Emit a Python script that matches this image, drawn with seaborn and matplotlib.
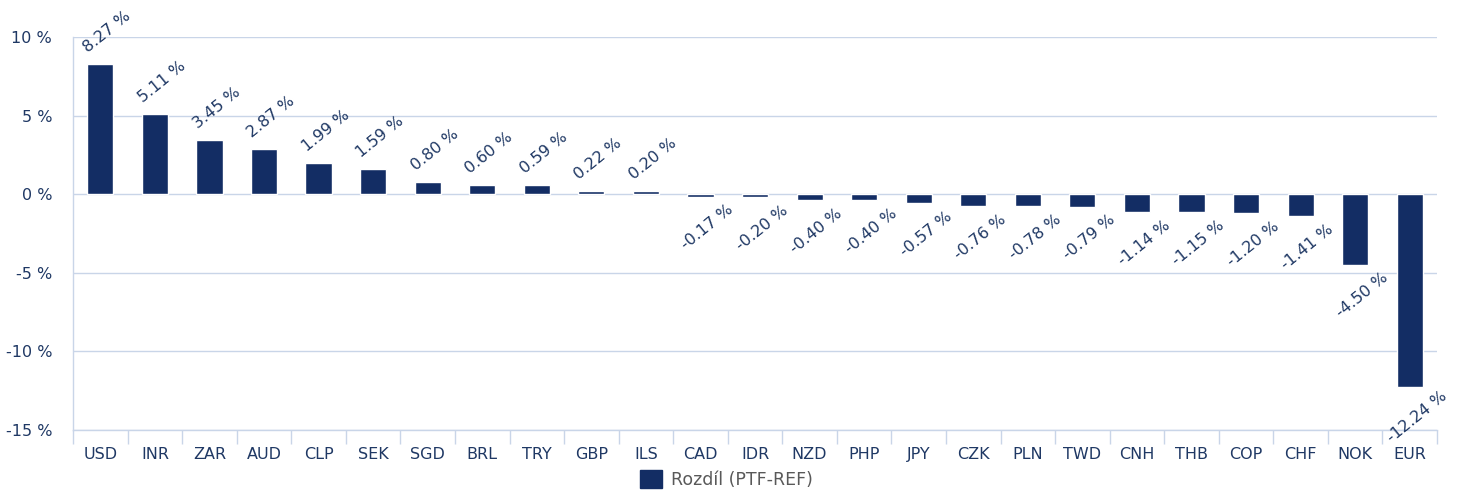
import numpy as np
import pandas as pd
import matplotlib
matplotlib.use("Agg")
import matplotlib.pyplot as plt
import seaborn as sns
from matplotlib.patches import Patch
from matplotlib.ticker import FixedLocator

# Data
currencies = ['USD', 'INR', 'ZAR', 'AUD', 'CLP', 'SEK', 'SGD', 'BRL', 'TRY', 'GBP',
              'ILS', 'CAD', 'IDR', 'NZD', 'PHP', 'JPY', 'CZK', 'PLN', 'TWD', 'CNH',
              'THB', 'COP', 'CHF', 'NOK', 'EUR']
diff_pct = [8.27, 5.11, 3.45, 2.87, 1.99, 1.59, 0.80, 0.60, 0.59, 0.22,
            0.20, -0.17, -0.20, -0.40, -0.40, -0.57, -0.76, -0.78, -0.79, -1.14,
            -1.15, -1.20, -1.41, -4.50, -12.24]
y_ticks = [-15, -10, -5, 0, 5, 10]
series_name = 'Rozdíl (PTF-REF)'

navy = '#132d64'
text_col = '#1f3864'
grid_col = '#c9d5e8'

sns.set_style("white")
plt.rcParams['font.family'] = ['DejaVu Sans']

df = pd.DataFrame({'ccy': currencies, 'diff': diff_pct})

fig = plt.figure(figsize=(14.61, 4.98), dpi=100)
ax = fig.add_axes([0.05, 0.1365, 0.9336, 0.7892])

sns.barplot(data=df, x='ccy', y='diff', color=navy, saturation=1, width=0.48, ax=ax)

ax.set_xlim(-0.5, len(currencies) - 0.5)
ax.set_ylim(-15, 10)
ax.set_yticks(y_ticks)
ax.set_yticklabels([f'{t} %' for t in y_ticks], color=text_col, fontsize=11.5)
ax.yaxis.grid(True, color=grid_col, linewidth=1)
ax.set_axisbelow(True)
ax.tick_params(axis='y', length=0, pad=15)

ax.tick_params(axis='x', which='major', length=0, pad=12, labelsize=11.5, labelcolor=text_col)
ax.xaxis.set_minor_locator(FixedLocator(np.arange(-0.5, len(currencies), 1)))
ax.tick_params(axis='x', which='minor', bottom=True, length=10, color=grid_col, width=1)
ax.set_xlabel('')
ax.set_ylabel('')

for side in ['top', 'right']:
    ax.spines[side].set_visible(False)
for side in ['left', 'bottom']:
    ax.spines[side].set_color(grid_col)
    ax.spines[side].set_linewidth(1)

# Value labels, rotated
for i, v in enumerate(diff_pct):
    dy = 23 if v >= 0 else -22
    ax.annotate(f'{v:.2f} %', xy=(i, v), xytext=(5, dy), textcoords='offset points',
                ha='center', va='center', rotation=39, fontsize=11.5, color=text_col)

handles = [Patch(facecolor=navy, edgecolor=navy, label=series_name)]
fig.legend(handles=handles, loc='center', bbox_to_anchor=(0.497, 0.037), frameon=False,
           fontsize=12.5, labelcolor='#595959', handlelength=1.3, handleheight=1.2,
           handletextpad=0.5)

fig.savefig('out.png', dpi=100)
